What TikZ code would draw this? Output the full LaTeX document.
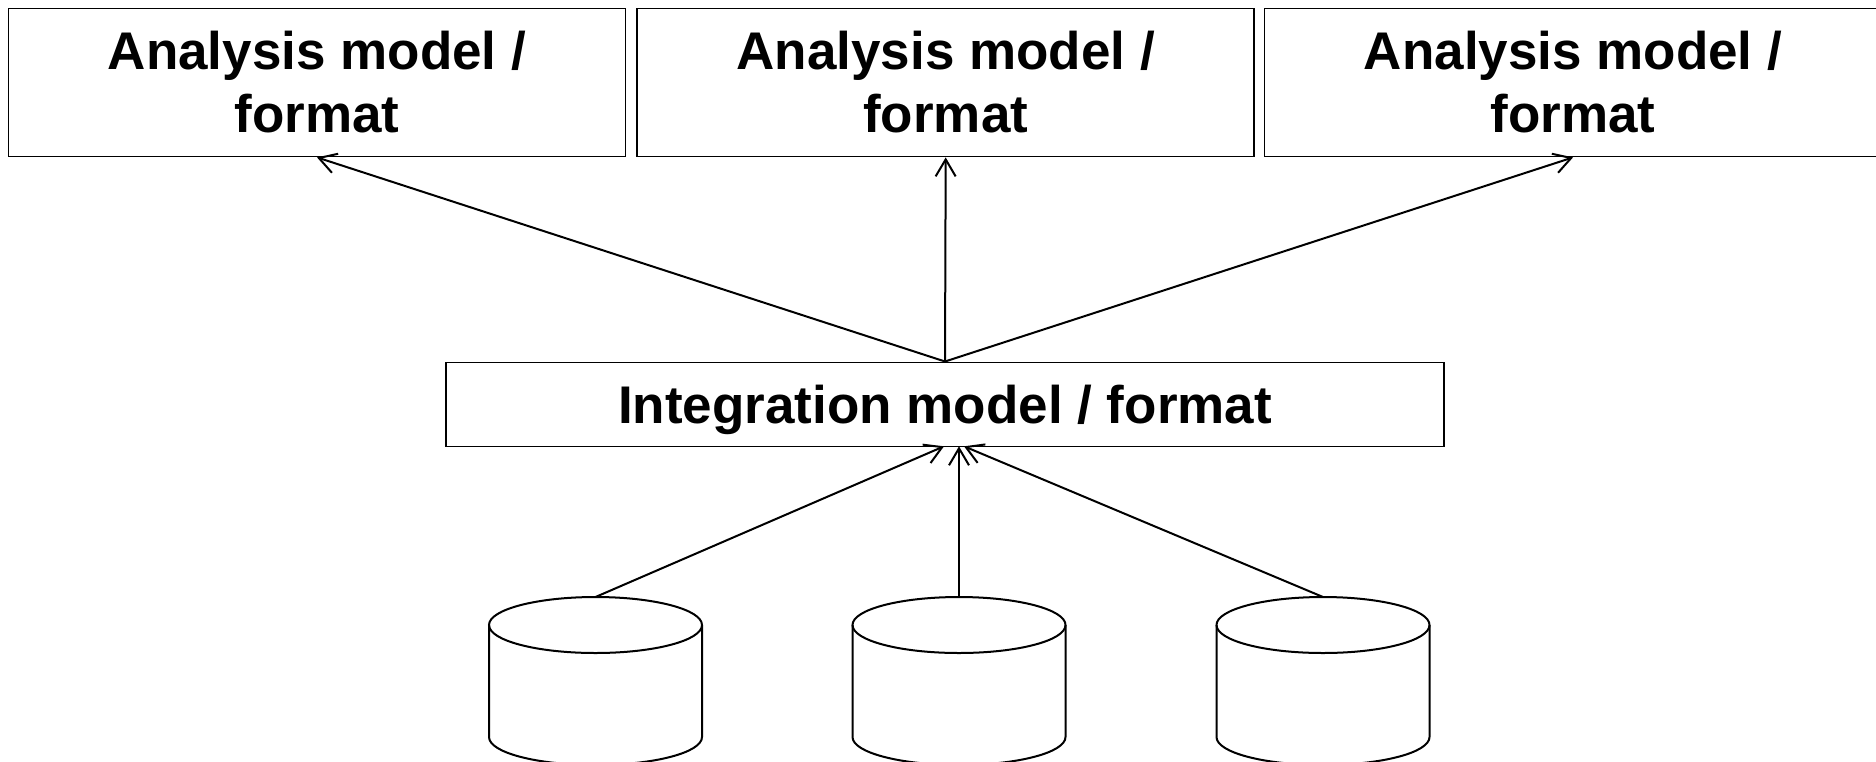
\documentclass[tikz,border=0pt]{standalone}
\usepackage{fontspec}
\setmainfont{Liberation Sans}
\usetikzlibrary{arrows.meta}
\begin{document}
\begin{tikzpicture}[x=1pt,y=-1pt,
  modelbox/.style={draw, line width=1.8pt, align=center, inner sep=0pt,
    font=\bfseries\fontsize{53}{63}\selectfont},
  flow/.style={line width=2pt, -{Straight Barb[length=17pt,width=20pt,line width=2pt]}},
  drum/.style={line width=2pt}]
\clip (0,0) rectangle (1876,761);

% analysis models
\node[modelbox, minimum width=617pt, minimum height=148pt] (am1) at (317,82.5) {Analysis model /\\format};
\node[modelbox, minimum width=617pt, minimum height=148pt] (am2) at (945.7,82.5) {Analysis model /\\format};
\node[modelbox, minimum width=617pt, minimum height=148pt] (am3) at (1573,82.5) {Analysis model /\\format};

% integration model
\node[modelbox, minimum width=998pt, minimum height=84pt, text depth=0pt] (int) at (945,404.4) {Integration model / format};

% data stores
\foreach \n/\cx in {1/595.5, 2/959, 3/1323}{
  \draw[drum] (\cx,625) ellipse [x radius=106.5, y radius=28];
  \draw[drum] (\cx-106.5,625) -- (\cx-106.5,737)
     arc[start angle=180, end angle=0, x radius=106.5, y radius=28]
     -- (\cx+106.5,625);
  \coordinate (db\n) at (\cx,597);
}

% arrow ends on the integration box
\coordinate (inL) at (944,446.3);
\coordinate (inM) at (959,446.3);
\coordinate (inR) at (964,446.3);

% connectors
\draw[flow] (int.north) -- (am1.south);
\draw[flow] (int.north) -- (am2.south);
\draw[flow] (int.north) -- (am3.south);
\draw[flow] (db1) -- (inL);
\draw[flow] (db2) -- (inM);
\draw[flow] (db3) -- (inR);
\end{tikzpicture}
\end{document}
